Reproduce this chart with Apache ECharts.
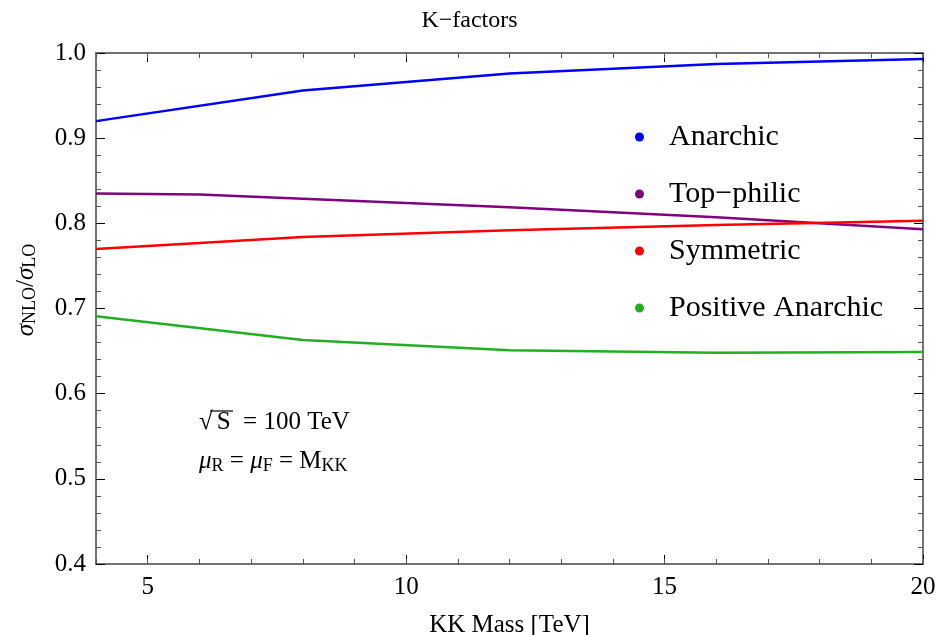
<!DOCTYPE html>
<html lang="en">
<head>
    <meta charset="UTF-8">
    <title>K-factors</title>
    <script src="https://cdn.jsdelivr.net/npm/echarts@6.0.0/dist/echarts.min.js"></script>
</head>
<body style="margin:0;">
    <div id="chart" style="width: 939px; height: 635px;"></div>
    <script>
        // KK mass [TeV] and K-factors
        const massPts = [4, 8, 12, 16, 20];
        const massTop = [4, 6, 8, 12, 16, 20];
        const anarchic = [0.920, 0.956, 0.976, 0.987, 0.993];
        const topPhilic = [0.835, 0.834, 0.829, 0.819, 0.807, 0.793];
        const symmetric = [0.770, 0.784, 0.792, 0.798, 0.803];
        const posAnarchic = [0.691, 0.663, 0.651, 0.648, 0.649];
        const xLabels = [5, 10, 15, 20];

        const serif = 'Liberation Serif';
        const myChart = echarts.init(document.getElementById('chart'));

        function pairs(xs, ys) {
            return xs.map((x, i) => [x, ys[i]]);
        }

        function mkSeries(name, xs, ys, color) {
            return {
                name: name,
                type: 'line',
                data: pairs(xs, ys),
                showSymbol: false,
                color: color,
                lineStyle: { color: color, width: 2.5 },
                itemStyle: { color: color },
                xAxisIndex: 0,
                yAxisIndex: 0
            };
        }

        const axisCol = '#444';
        const baseX = {
            type: 'value', min: 4, max: 20,
            splitLine: { show: false }
        };

        let option = {
            animation: false,
            title: {
                text: 'K\u2212factors',
                left: 'center',
                top: 4,
                textStyle: { fontFamily: serif, fontSize: 24, fontWeight: 'normal', color: '#000' }
            },
            grid: { left: 96, right: 16, top: 53, bottom: 71, outerBoundsMode: 'none', containLabel: false },
            legend: {
                orient: 'vertical',
                left: 630,
                top: 117,
                icon: 'circle',
                itemWidth: 9,
                itemHeight: 9,
                itemGap: 27,
                textStyle: { fontFamily: serif, fontSize: 30, color: '#000', lineHeight: 30, padding: [0, 0, 0, 20] },
                data: ['Anarchic', 'Top\u2212philic', 'Symmetric', 'Positive Anarchic']
            },
            xAxis: [
                Object.assign({}, baseX, {
                    position: 'bottom',
                    axisLine: { lineStyle: { color: axisCol, width: 1.5 } },
                    axisTick: { inside: true, length: 9, customValues: xLabels, lineStyle: { color: '#000' } },
                    axisLabel: { customValues: xLabels, fontFamily: serif, fontSize: 25, color: '#000', margin: 11 },
                    name: 'KK Mass [TeV]',
                    nameLocation: 'middle',
                    nameGap: 49,
                    nameTextStyle: { fontFamily: serif, fontSize: 25, color: '#000' }
                }),
                Object.assign({}, baseX, {
                    position: 'bottom', interval: 1,
                    axisLine: { show: false },
                    axisTick: { inside: true, length: 5, lineStyle: { color: '#555' } },
                    axisLabel: { show: false }
                }),
                Object.assign({}, baseX, {
                    position: 'top',
                    axisLine: { lineStyle: { color: axisCol, width: 1.5 } },
                    axisTick: { inside: true, length: 9, customValues: xLabels, lineStyle: { color: '#000' } },
                    axisLabel: { show: false }
                }),
                Object.assign({}, baseX, {
                    position: 'top', interval: 1,
                    axisLine: { show: false },
                    axisTick: { inside: true, length: 5, lineStyle: { color: '#555' } },
                    axisLabel: { show: false }
                })
            ],
            yAxis: [
                {
                    type: 'value', min: 0.4, max: 1.0, interval: 0.1,
                    position: 'left',
                    splitLine: { show: false },
                    axisLine: { show: true, lineStyle: { color: axisCol, width: 1.5 } },
                    axisTick: { show: true, inside: true, length: 9, lineStyle: { color: '#000' } },
                    minorTick: { show: true, splitNumber: 5, length: 5, lineStyle: { color: '#555' } },
                    axisLabel: {
                        fontFamily: serif, fontSize: 25, color: '#000', margin: 10,
                        formatter: v => v.toFixed(1)
                    }
                },
                {
                    type: 'value', min: 0.4, max: 1.0, interval: 0.1,
                    position: 'right',
                    splitLine: { show: false },
                    axisLine: { show: true, lineStyle: { color: axisCol, width: 1.5 } },
                    axisTick: { show: true, inside: true, length: 9, lineStyle: { color: '#000' } },
                    minorTick: { show: true, splitNumber: 5, length: 5, lineStyle: { color: '#555' } },
                    axisLabel: { show: false }
                }
            ],
            series: [
                mkSeries('Anarchic', massPts, anarchic, '#0000ff'),
                mkSeries('Top\u2212philic', massTop, topPhilic, '#800080'),
                mkSeries('Symmetric', massPts, symmetric, '#ff0000'),
                mkSeries('Positive Anarchic', massPts, posAnarchic, '#22b022')
            ],
            graphic: [
                {
                    type: 'text',
                    x: 26, y: 290,
                    rotation: Math.PI / 2,
                    style: {
                        text: '{s|\u03c3}{sub|NLO}{n|/}{s|\u03c3}{sub|LO}',
                        align: 'center',
                        verticalAlign: 'middle',
                        rich: {
                            s: { fontFamily: serif, fontStyle: 'italic', fontSize: 25, fill: '#000' },
                            n: { fontFamily: serif, fontSize: 25, fill: '#000' },
                            sub: { fontFamily: serif, fontSize: 18, fill: '#000', verticalAlign: 'bottom', padding: [8, 0, 0, 0] }
                        }
                    }
                },
                {
                    type: 'text',
                    left: 199, top: 410,
                    style: {
                        text: '{n|\u221a}{s|S}{n|  = 100 TeV}',
                        rich: {
                            n: { fontFamily: serif, fontSize: 25, fill: '#000' },
                            s: { fontFamily: serif, fontSize: 25, fill: '#000', padding: [0, 0, 0, 4] }
                        }
                    }
                },
                {
                    type: 'line',
                    shape: { x1: 210, y1: 411, x2: 233, y2: 411 },
                    style: { stroke: '#000', lineWidth: 1.2 }
                },
                {
                    type: 'text',
                    left: 199, top: 449,
                    style: {
                        text: '{m|\u03bc}{sub|R}{n| = }{m|\u03bc}{sub|F}{n| = M}{sub|KK}',
                        rich: {
                            m: { fontFamily: serif, fontStyle: 'italic', fontSize: 25, fill: '#000' },
                            n: { fontFamily: serif, fontSize: 25, fill: '#000' },
                            sub: { fontFamily: serif, fontSize: 18, fill: '#000', padding: [10, 0, 0, 0] }
                        }
                    }
                }
            ]
        };

        myChart.setOption(option);
    </script>
</body>
</html>
